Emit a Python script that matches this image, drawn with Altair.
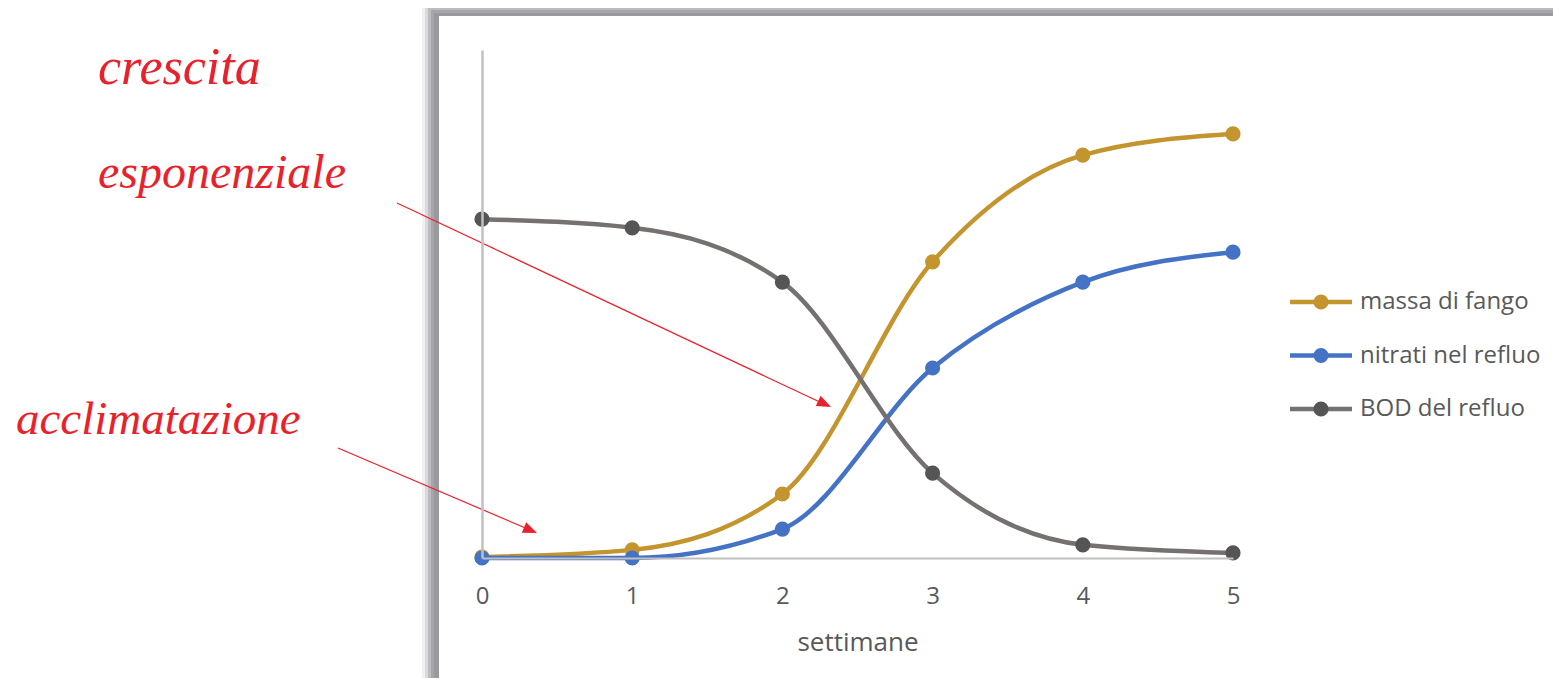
import altair as alt
import pandas as pd

# ---- data ----
weeks = [0, 1, 2, 3, 4, 5]
series_names = ["massa di fango", "nitrati nel refluo", "BOD del refluo"]
massa = [0.2, 1.6, 12.6, 58.3, 79.3, 83.5]
nitrati = [0.0, 0.0, 5.7, 37.4, 54.3, 60.2]
bod = [66.7, 65.0, 54.3, 16.7, 2.6, 1.0]
x_ticks = [0, 1, 2, 3, 4, 5]
x_title = "settimane"
annotations = ["crescita", "esponenziale", "acclimatazione"]

# ---- styles ----
line_colors = ["#C4952E", "#4472C4", "#767171"]
dot_colors = ["#C4952E", "#4472C4", "#555555"]
red = "#E8222B"
grey_text = "#595959"
font = "Open Sans"
hand_font = "Liberation Serif"

W, H = 751, 508

rows = []
for name, vals in zip(series_names, [massa, nitrati, bod]):
    for w, v in zip(weeks, vals):
        rows.append({"series": name, "week": w, "val": v})
df = pd.DataFrame(rows)
one = pd.DataFrame({"k": [0]})

x_enc = alt.X(
    "week:Q",
    scale=alt.Scale(domain=[0, 5], nice=False),
    axis=alt.Axis(
        values=x_ticks, format="d", ticks=False, tickSize=0, grid=False,
        labelFontSize=24, labelColor=grey_text, labelFont=font,
        labelPadding=38, labelBaseline="middle", labelFlush=False,
        domainColor="#BFBFBF", domainWidth=2, zindex=1,
        title=x_title, titleFontSize=26, titleFontWeight="normal",
        titleColor=grey_text, titleFont=font, titleY=84, titleBaseline="middle",
    ),
)
y_enc = alt.Y(
    "val:Q",
    scale=alt.Scale(domain=[0, 100], nice=False),
    axis=alt.Axis(labels=False, ticks=False, grid=False, title=None,
                  domainColor="#C0C0C0", domainWidth=2.5, zindex=1),
)

layers = []

# frame with shadow (page coordinates shifted to plot origin at 482,50)
def rect(x1, y1, color):
    return alt.Chart(one).mark_rect(color=color, strokeWidth=0).encode(
        x=alt.value(x1 - 482), x2=alt.value(1600), y=alt.value(y1 - 50), y2=alt.value(800)
    )

layers.append(rect(422, 1, "#F0F0F2"))
layers.append(rect(425, 4, "#DADADD"))
layers.append(rect(428, 7, "#BDBDC1"))
layers.append(rect(431, 10, "#A6A6AA"))
layers.append(rect(434, 13, "#9A9A9E"))
layers.append(rect(439, 16, "#FFFFFF"))

base = alt.Chart(df)
# axes carrier
layers.append(base.mark_line(opacity=0).encode(x=x_enc, y=y_enc, detail="series:N"))

for name, lc, dc in zip(series_names, line_colors, dot_colors):
    sub = base.transform_filter(alt.datum.series == name)
    layers.append(sub.mark_line(color=lc, strokeWidth=4.5, interpolate="monotone").encode(
        x=alt.X("week:Q"), y=alt.Y("val:Q")))
    layers.append(sub.mark_circle(color=dc, size=230, opacity=1).encode(
        x=alt.X("week:Q"), y=alt.Y("val:Q")))

# legend
for i, (name, lc, dc) in enumerate(zip(series_names, line_colors, dot_colors)):
    ly = 252 + 53.5 * i
    layers.append(alt.Chart(one).mark_rule(color=lc, strokeWidth=4.5).encode(
        x=alt.value(808), x2=alt.value(870), y=alt.value(ly)))
    layers.append(alt.Chart(one).mark_circle(color=dc, size=230, opacity=1).encode(
        x=alt.value(839), y=alt.value(ly)))
    layers.append(alt.Chart(one).mark_text(
        text=name, align="left", baseline="middle", fontSize=24, color=grey_text, font=font
    ).encode(x=alt.value(878), y=alt.value(ly)))

# handwritten annotations
ann_pos = [(98, 84), (98, 188), (16, 434)]
ann_size = [52, 48, 47]
for txt, (px, py), fs in zip(annotations, ann_pos, ann_size):
    layers.append(alt.Chart(one).mark_text(
        text=txt, align="left", baseline="alphabetic", fontSize=fs, color=red,
        font=hand_font, fontStyle="italic"
    ).encode(x=alt.value(px - 482), y=alt.value(py - 50)))

# arrows
arrows = [((397, 203), (831, 407), 25.2), ((338, 448), (537, 533), 23.1)]
for (sx, sy), (tx, ty), ang in arrows:
    layers.append(alt.Chart(one).mark_rule(color=red, strokeWidth=1.2).encode(
        x=alt.value(sx - 482), y=alt.value(sy - 50),
        x2=alt.value(tx - 482 - 8), y2=alt.value(ty - 50 - 3.5)))
    layers.append(alt.Chart(one).mark_point(
        shape="M0,0L-1,-0.4L-1,0.4Z", angle=ang, size=800, filled=True,
        color=red, opacity=1, strokeWidth=0
    ).encode(x=alt.value(tx - 482), y=alt.value(ty - 50)))

chart = alt.layer(*layers).properties(
    width=W, height=H,
    autosize=alt.AutoSizeParams(type="none"),
    padding={"left": 474, "top": 42, "right": 320, "bottom": 120},
).configure_view(stroke=None)

chart.save("out.html", embed_options={"renderer": "svg", "actions": False})
